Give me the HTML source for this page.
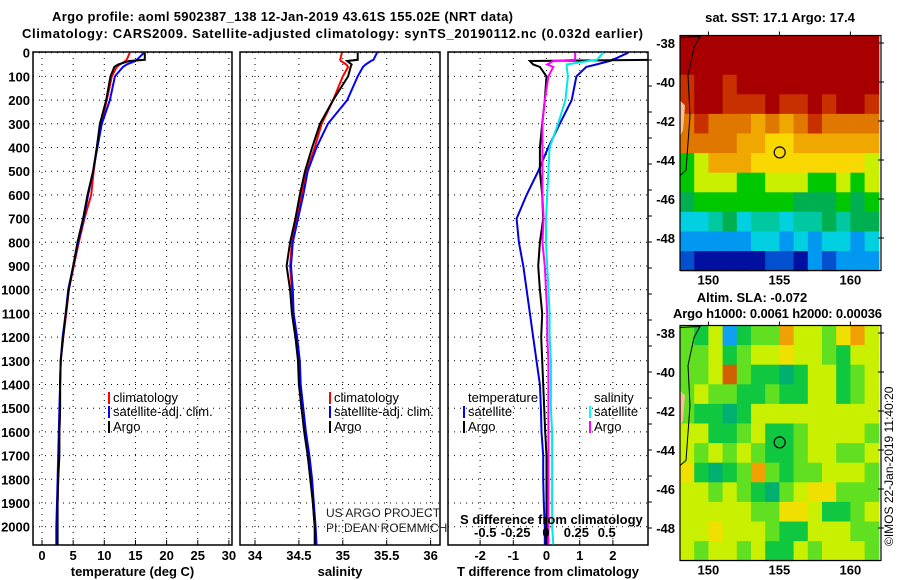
<!DOCTYPE html>
<html><head><meta charset="utf-8"><style>
html,body{margin:0;padding:0;background:#fff;}
svg{display:block;font-family:"Liberation Sans",sans-serif;}
.b{font-weight:bold;font-size:13px;}
.l{font-size:13px;}
</style></head><body>
<svg id="c" width="900" height="580" viewBox="0 0 900 580" xmlns="http://www.w3.org/2000/svg">
<defs>
<clipPath id="cp1"><rect x="33" y="52" width="199" height="493"/></clipPath>
<clipPath id="cp2"><rect x="240" y="52" width="200" height="493"/></clipPath>
<clipPath id="cp3"><rect x="448" y="52" width="200" height="493"/></clipPath>
</defs>
<text class="b" x="52" y="21" textLength="461">Argo profile: aoml 5902387_138 12-Jan-2019 43.61S 155.02E (NRT data)</text>
<text class="b" x="22" y="38" textLength="621">Climatology: CARS2009. Satellite-adjusted climatology: synTS_20190112.nc (0.032d earlier)</text>
<g id="g"></g>
</svg>
<script>
// ---- data ----
const depthTicks=[0,100,200,300,400,500,600,700,800,900,1000,1100,1200,1300,1400,1500,1600,1700,1800,1900,2000];
const tTicks=[0,5,10,15,20,25,30];
const sTicks=[34,34.5,35,35.5,36];
const dTTicks=[-2,-1,0,1,2];
const dSTicks=[-0.5,-0.25,0,0.25,0.5];
const dSTickLabels=["-0.5","-0.25","0","0.25","0.5"];
const dDepth=[0,30,35,50,60,100,200,300,400,500,600,700,800,900,1000,1100,1200,1300,1400,1500,1600,1700,1800,1900,2000,2075];
const tClim=[14.1,13.6,13.4,12.5,12.0,11.2,10.4,9.5,8.8,8.3,7.9,6.8,5.9,5.1,4.3,3.9,3.4,3.0,2.9,2.9,2.8,2.7,2.6,2.5,2.4,2.4];
const tSat=[16.4,15.2,15.0,13.6,13.0,11.7,10.9,9.6,8.9,8.2,7.4,6.7,5.8,5.0,4.2,3.8,3.3,3.0,2.9,2.8,2.7,2.6,2.5,2.4,2.3,2.3];
const tArgo=[16.5,16.5,14.0,12.2,11.6,11.0,10.3,9.3,8.8,8.2,7.3,6.6,5.7,5.0,4.3,3.8,3.4,3.0,2.9,2.9,2.8,2.8,2.6,2.5,2.5,2.5];
const sClim=[34.99,34.97,34.98,35.04,35.06,35.0,34.89,34.76,34.68,34.59,34.53,34.48,34.42,34.40,34.42,34.43,34.47,34.50,34.51,34.54,34.57,34.61,34.64,34.66,34.68,34.69];
const sSat=[35.39,35.35,35.32,35.26,35.23,35.17,35.05,34.83,34.70,34.60,34.55,34.49,34.43,34.41,34.43,34.44,34.48,34.51,34.52,34.55,34.58,34.62,34.65,34.67,34.69,34.70];
const sArgo=[35.17,35.17,35.05,35.10,35.09,35.06,34.89,34.74,34.65,34.57,34.51,34.46,34.40,34.36,34.40,34.42,34.46,34.49,34.50,34.53,34.56,34.60,34.63,34.66,34.68,34.68];
const dTSat=[2.46,2.0,1.9,1.5,1.2,0.9,0.76,0.4,0.05,-0.25,-0.6,-0.9,-0.83,-0.7,-0.6,-0.5,-0.4,-0.3,-0.2,-0.17,-0.15,-0.1,-0.1,-0.08,-0.05,-0.05];
const dTArgo=[3.2,3.2,-0.5,-0.4,-0.2,0,-0.05,-0.13,-0.2,-0.2,-0.13,-0.1,-0.2,-0.25,-0.2,-0.13,-0.16,-0.13,-0.1,-0.07,-0.04,0,0,0,0,0];
const dSSat=[0.47,0.42,0.35,0.17,0.17,0.18,0.16,0.1,0.03,0.02,0.01,0.0,0.0,0.01,0.02,0.03,0.03,0.04,0.04,0.04,0.05,0.05,0.05,0.05,0.05,0.06];
const dSArgo=[0.24,0.24,0.06,0.01,0.06,0.02,-0.01,-0.03,-0.03,-0.03,-0.03,-0.02,-0.03,-0.01,0.0,0.01,0.01,0.02,0.02,0.02,0.02,0.02,0.02,0.02,0.02,0.02];
const lonTicks=[150,155,160];
const latTicks=[-38,-40,-42,-44,-46,-48];
const sstCols=["#a80000","#c83000","#e07800","#f0a800","#f8d800","#c8f000","#00c800","#00b050","#00c8a0","#00d0e0","#0098f0","#0050d0","#0010a0"];
const sst=[
[0,0,0,0,0,0,0,0,0,0,0,0,0,0],
[0,0,0,0,0,0,0,0,0,0,0,0,0,0],
[1,0,0,1,0,0,0,0,0,0,0,0,0,0],
[1,0,0,1,1,1,0,1,1,0,1,0,0,1],
[2,1,2,2,2,3,2,3,2,1,2,2,2,2],
[2,2,2,2,3,3,4,4,3,3,3,3,3,3],
[6,5,3,3,3,4,4,4,4,4,4,4,4,5],
[6,5,5,5,6,6,5,5,5,6,6,5,6,5],
[7,6,6,6,6,6,6,6,7,7,7,6,7,6],
[9,9,8,7,9,8,8,9,8,8,7,8,7,7],
[10,10,10,10,10,9,9,10,9,10,9,9,10,9],
[11,12,12,12,12,12,11,11,12,10,11,10,10,10]];
const slaCols={"-1":"#10a0f0","0":"#00b070","1":"#10c840","2":"#60e020","3":"#c8f000","4":"#f0e000","5":"#f0a000","6":"#d06000"};
const sla=[
[2,1,3,-1,1,2,2,5,3,3,2,4,5,3],
[2,2,3,1,2,3,3,4,3,3,2,1,3,3],
[2,2,3,6,2,1,1,0,1,3,3,1,2,3],
[2,3,2,2,1,1,2,1,1,3,3,1,2,3],
[2,1,1,0,1,3,3,3,3,3,3,3,3,3],
[3,3,1,1,2,3,1,1,2,3,3,3,3,2],
[3,2,3,2,3,2,1,1,2,3,3,2,2,3],
[4,1,0,1,2,5,2,1,2,2,3,3,3,2],
[3,3,2,3,2,1,0,2,3,4,4,2,2,2],
[3,3,3,3,3,2,2,4,4,3,1,1,2,3],
[3,3,4,3,3,3,2,1,1,3,3,3,2,2],
[3,2,3,3,2,3,1,1,3,2,3,3,3,2]];
const floatLon=155.02, floatLat=-43.61;

// ---- scales ----
const NS="http://www.w3.org/2000/svg";
const G=document.getElementById('g');
function el(t,a,p){const e=document.createElementNS(NS,t);for(const k in a)e.setAttribute(k,a[k]);(p||G).appendChild(e);return e;}
const yD=d=>52.7+d*0.237;
const xT=v=>42+v*6.23;
const xS=v=>255+(v-34)*87.8;
const xDT=v=>546.5+v*33.2;
const xDS=v=>546+v*121.5;
const mx1=lon=>680+(lon-148)*14.2;
const my1=lat=>43+(-38-lat)*19.5;
const my2=lat=>333+(-38-lat)*19.5;

function panel(x0,w,xs,ticks,labels,name,xtitle,cp){
  const g=el('g',{});
  
  
  depthTicks.forEach(d=>{el('line',{x1:x0,x2:x0+w,y1:yD(d),y2:yD(d),stroke:'#000','stroke-width':1,'stroke-dasharray':'1 5'},g);});
  ticks.forEach((t,i)=>{const x=xs(t);
    el('line',{x1:x,x2:x,y1:52,y2:545,stroke:'#000','stroke-width':1,'stroke-dasharray':'1 5'},g);
    el('line',{x1:x,x2:x,y1:540,y2:545,stroke:'#000'},g);
    const tx=el('text',{x:x,y:560,'text-anchor':'middle',class:'b'},g);tx.textContent=labels[i];
    
    
  });
  el('rect',{x:x0,y:52,width:w,height:493,fill:'none',stroke:'#000','stroke-width':1.5},g);
  const tt=el('text',{x:x0+w/2,y:576,'text-anchor':'middle',class:'b'},g);tt.textContent=xtitle;
  
  
  return el('g',{'clip-path':'url(#'+cp+')'},g);
}
function series(g,xs,vals,col,name){
  let d='';
  dDepth.forEach((dp,i)=>{const x=xs(vals[i]).toFixed(1),y=yD(dp).toFixed(1);
    if(i===0)d+='M'+x+' '+y;else d+=' L'+x+' '+y;});
  const p=el('path',{d:d,fill:'none',stroke:col,'stroke-width':2},g);
  
  
}
depthTicks.forEach(d=>{const t=el('text',{x:30,y:yD(d)+5,'text-anchor':'end',class:'b'});t.textContent=d;
  
  });

const g1=panel(33,199,xT,tTicks,tTicks.map(String),'temperature-panel','temperature (deg C)','cp1');
series(g1,xT,tClim,'#f00','temp-climatology-line');
series(g1,xT,tSat,'#00f','temp-satellite-line');
series(g1,xT,tArgo,'#000','temp-argo-line');
const g2=panel(240,200,xS,sTicks,sTicks.map(String),'salinity-panel','salinity','cp2');
series(g2,xS,sClim,'#f00','sal-climatology-line');
series(g2,xS,sSat,'#00f','sal-satellite-line');
series(g2,xS,sArgo,'#000','sal-argo-line');
const g3=panel(448,200,xDT,dTTicks,dTTicks.map(String),'difference-panel','T difference from climatology','cp3');
series(g3,xDT,dTSat,'#0000e0','dT-satellite-line');
series(g3,xDT,dTArgo,'#000','dT-argo-line');
series(g3,xDS,dSSat,'#00e8e8','dS-satellite-line');
series(g3,xDS,dSArgo,'#f0f','dS-argo-line');
dSTicks.forEach((t,i)=>{const tx=el('text',{x:xDS(t),y:537,'text-anchor':'middle',class:'b'});tx.textContent=dSTickLabels[i];
  
  });
const sd=el('text',{x:460,y:524,class:'b'});sd.textContent='S difference from climatology';



function leg(x,y,col,txt,name){
  if(col)el('rect',{x:x-5,y:y-10,width:2,height:12,fill:col});
  const t=el('text',{x:x,y:y,class:'l'});t.textContent=txt;
  
  
}
leg(113,402,'#f00','climatology','legend-climatology');
leg(113,416,'#00f','satellite-adj. clim.','legend-satellite');
leg(113,431,'#000','Argo','legend-argo');
leg(334,402,'#f00','climatology','legend-climatology-2');
leg(334,416,'#00f','satellite-adj. clim.','legend-satellite-2');
leg(334,431,'#000','Argo','legend-argo-2');
leg(468,402,null,'temperature','legend-temperature-header');
leg(468,416,'#00f','satellite','legend-t-satellite');
leg(468,431,'#000','Argo','legend-t-argo');
leg(594,402,null,'salinity','legend-salinity-header');
leg(594,416,'#0ff','satellite','legend-s-satellite');
leg(594,431,'#f0f','Argo','legend-s-argo');
const c1=el('text',{x:326,y:517,'font-size':'12px',fill:'#222'});c1.textContent='US ARGO PROJECT';


const c2=el('text',{x:326,y:532,'font-size':'12px',fill:'#222'});c2.textContent='PI: DEAN ROEMMICH';



function map(top,data,colfn,name,myf){
  const g=el('g',{});
  
  
  data.forEach((row,r)=>row.forEach((v,c)=>{
    el('rect',{x:680+c*14.2,y:top+r*19.6,width:14.8,height:20.2,fill:colfn(v)},g);
  }));
  el('path',{d:`M680 ${top+2} L700 ${top+1} L694 ${top+12} L688 ${top+40} L690 ${top+80} L686 ${top+135} L680 ${top+140}`,fill:'none',stroke:'#000','stroke-width':1},g);
  el('path',{d:`M680 ${top+65} L685 ${top+70} L683 ${top+95} L680 ${top+100} Z`,fill:'#f8c090'},g);
  el('rect',{x:680,y:top,width:201,height:235,fill:'none',stroke:'#000','stroke-width':1.2},g);
  lonTicks.forEach(l=>{const x=mx1(l);
    el('line',{x1:x,x2:x,y1:top,y2:top-4,stroke:'#000'},g);
    const t=el('text',{x:x,y:top+249,'text-anchor':'middle',class:'b'},g);t.textContent=l;
    
    });
  latTicks.forEach(l=>{const y=myf(l);
    el('line',{x1:878,x2:884,y1:y,y2:y,stroke:'#000'},g);
    const t=el('text',{x:675,y:y+5,'text-anchor':'end',class:'b'},g);t.textContent=l;
    
    });
  const ci=el('circle',{cx:mx1(floatLon),cy:myf(floatLat),r:5.5,fill:'none',stroke:'#000','stroke-width':1.2},g);
  
  
}
map(35.5,sst,v=>sstCols[v],'sst-map',my1);
map(325.5,sla,v=>slaCols[String(v)],'sla-map',my2);
[...Array(19).keys()].forEach(i=>el('line',{x1:648,x2:652,y1:60+i*26,y2:60+i*26,stroke:'#000'}));

function txt(x,y,s,name,extra){const t=el('text',Object.assign({x:x,y:y,class:'b'},extra||{}));t.textContent=s;
  
  return t;}
txt(780,22,'sat. SST: 17.1 Argo: 17.4','sst-map-title',{'text-anchor':'middle'});
txt(752,302,'Altim. SLA: -0.072','sla-map-title',{'text-anchor':'middle'});
txt(673,318,'Argo h1000: 0.0061 h2000: 0.00036','argo-height-title',{textLength:209});
const r=el('text',{x:0,y:0,'font-size':'12px',transform:'translate(893,546) rotate(-90)'});r.textContent='©IMOS 22-Jan-2019 11:40:20';


</script>
</body></html>
